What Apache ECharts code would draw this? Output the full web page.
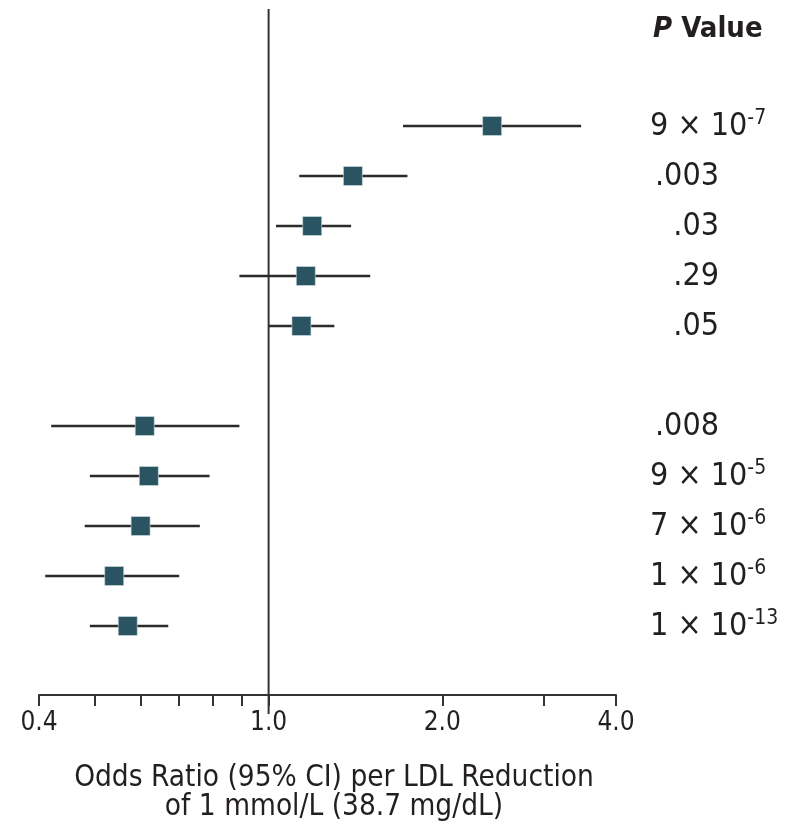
<!DOCTYPE html>
<html>
<head>
<meta charset="utf-8">
<script src="https://cdn.jsdelivr.net/npm/echarts@6/dist/echarts.min.js"></script>
<style>html,body{margin:0;padding:0;background:#fff}#c{width:789px;height:835px}</style>
</head>
<body>
<div id="c"></div>
<script>
// Row positions (gap row between the two groups)
const rows = [0, 1, 2, 3, 4, 6, 7, 8, 9, 10];
const oddsRatio = [2.44, 1.40, 1.19, 1.16, 1.14, 0.61, 0.62, 0.60, 0.54, 0.57];
const ciLower   = [1.71, 1.13, 1.03, 0.89, 1.00, 0.42, 0.49, 0.48, 0.41, 0.49];
const ciUpper   = [3.48, 1.74, 1.39, 1.50, 1.30, 0.89, 0.79, 0.76, 0.70, 0.67];
const pValues   = ['9 × 10^-7', '.003', '.03', '.29', '.05', '.008', '9 × 10^-5', '7 × 10^-6', '1 × 10^-6', '1 × 10^-13'];
const xTicks    = [0.4, 0.5, 0.6, 0.7, 0.8, 0.9, 1.0, 2.0, 3.0, 4.0];
const xTickLabels = [0.4, 1.0, 2.0, 4.0];
const refValue  = 1.0;

const FONT = 'DejaVu Sans Condensed, DejaVu Sans, sans-serif';
const TXT = '#231f20';
const Y_MIN = -2.34, Y_MAX = 11.38;

function pLabel(s) {
  const i = s.indexOf('^');
  if (i < 0) return s;
  return s.slice(0, i) + '{s|' + s.slice(i + 1) + '}';
}

const chart = echarts.init(document.getElementById('c'), null, {renderer: 'canvas'});
const option = {
  animation: false,
  backgroundColor: '#fff',
  title: {
    text: '{i|P} Value',
    left: 648, top: 10,
    textStyle: {
      fontFamily: FONT, fontSize: 29, fontWeight: 'bold', color: TXT,
      rich: { i: { fontFamily: FONT, fontSize: 29, fontWeight: 'bold', fontStyle: 'italic', color: TXT } }
    }
  },
  grid: { left: 39, right: 173, top: 9, bottom: 140 },
  xAxis: {
    type: 'log', logBase: 10, min: 0.4, max: 4,
    position: 'bottom',
    axisLine: { show: true, onZero: false, lineStyle: { color: '#333', width: 2 } },
    axisTick: { show: true, customValues: xTicks, length: 11, lineStyle: { color: '#333', width: 2 } },
    axisLabel: {
      show: true, customValues: xTickLabels, margin: 15,
      fontFamily: FONT, fontSize: 26, color: TXT,
      formatter: v => Number(v).toFixed(1)
    },
    splitLine: { show: false }, minorTick: { show: false },
    name: 'Odds Ratio (95% CI) per LDL Reduction\nof 1 mmol/L (38.7 mg/dL)',
    nameLocation: 'middle', nameGap: 69,
    nameTextStyle: { fontFamily: FONT, fontSize: 29.5, color: TXT, lineHeight: 29, padding: [0, 0, 0, 13] }
  },
  yAxis: {
    type: 'value', min: Y_MIN, max: Y_MAX, inverse: true,
    show: false
  },
  series: [{
    type: 'custom',
    name: 'Reference',
    data: [[refValue, Y_MIN]],
    encode: { x: 0, y: 1 },
    clip: false,
    silent: true,
    renderItem: function (params, api) {
      const top = api.coord([api.value(0), Y_MIN]);
      const bottom = api.coord([api.value(0), Y_MAX]);
      return { type: 'line', shape: { x1: top[0], y1: top[1], x2: bottom[0], y2: bottom[1] + 19 },
               style: { stroke: '#333', lineWidth: 2 } };
    },
    z: 1
  }, {
    type: 'custom',
    name: 'CI',
    data: rows.map((r, i) => [r, ciLower[i], ciUpper[i]]),
    encode: { x: [1, 2], y: 0 },
    clip: false,
    renderItem: function (params, api) {
      const a = api.coord([api.value(1), api.value(0)]);
      const b = api.coord([api.value(2), api.value(0)]);
      return { type: 'line', shape: { x1: a[0], y1: a[1], x2: b[0], y2: b[1] },
               style: { stroke: '#2a2a2a', lineWidth: 2.5 } };
    },
    z: 2
  }, {
    type: 'scatter',
    name: 'OR',
    data: rows.map((r, i) => [oddsRatio[i], r]),
    symbol: 'rect', symbolSize: 19,
    itemStyle: { color: '#2b5462', borderColor: '#cfe0e4', borderWidth: 0.6, opacity: 1 },
    z: 3
  }, {
    type: 'custom',
    name: 'P',
    data: rows.map((r, i) => [4, r]),
    encode: { x: 0, y: 1 },
    clip: false,
    silent: true,
    renderItem: function (params, api) {
      const p = api.coord([api.value(0), api.value(1)]);
      const s = pValues[params.dataIndex];
      const sci = s.indexOf('^') >= 0;
      return {
        type: 'text',
        x: sci ? p[0] + 34 : p[0] + 103,
        y: p[1] + 1,
        style: {
          text: pLabel(s),
          align: sci ? 'left' : 'right',
          verticalAlign: 'middle',
          fontFamily: FONT, fontSize: 32, fill: TXT, lineHeight: 38,
          rich: { s: { fontFamily: FONT, fontSize: 21, fill: TXT, verticalAlign: 'top', lineHeight: 18 } }
        }
      };
    },
    z: 4
  }]
};
chart.setOption(option);
</script>
</body>
</html>
